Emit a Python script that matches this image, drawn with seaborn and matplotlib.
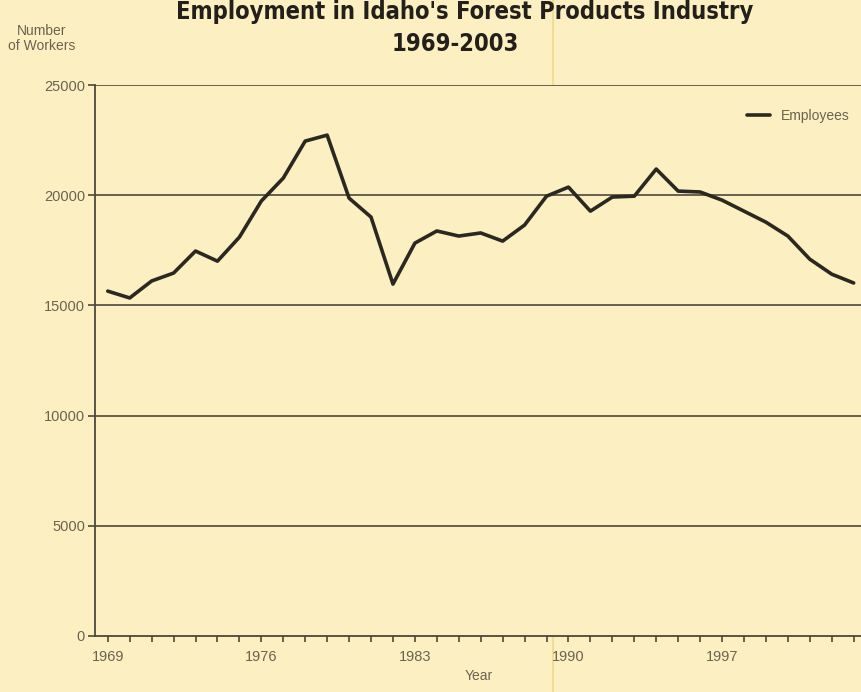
import matplotlib
matplotlib.use("Agg")
import matplotlib.pyplot as plt
import seaborn as sns
import pandas as pd
from matplotlib.lines import Line2D

years = list(range(1969, 2004))
employees = [15650, 15340, 16110, 16470, 17470, 17010, 18100, 19740, 20780, 22460,
             22730, 19870, 19010, 15970, 17830, 18380, 18150, 18290, 17920, 18650,
             19960, 20370, 19280, 19920, 19960, 21190, 20190, 20150, 19780, 19280,
             18780, 18150, 17100, 16420, 16020]
x_tick_labels = [1969, 1976, 1983, 1990, 1997]
y_ticks = [0, 5000, 10000, 15000, 20000, 25000]

df = pd.DataFrame({"Year": years, "Employees": employees})

bg = "#fcf0c2"
text_c = "#6a6350"
line_c = "#4d473b"

sns.set_theme(style="white")
plt.rcParams["font.family"] = ["Liberation Sans", "DejaVu Sans"]

fig = plt.figure(figsize=(8.62, 6.92), dpi=100, facecolor=bg)
ax = fig.add_axes([0.110, 0.081, 0.89, 0.796])
ax.set_facecolor(bg)

sns.lineplot(data=df, x="Year", y="Employees", ax=ax, color="#2b2721",
             linewidth=2.6, label="Employees")

ax.set_xlim(1968.41, 2003.38)
ax.set_ylim(0, 25000)
ax.set_yticks(y_ticks)
ax.set_yticklabels([str(v) for v in y_ticks])
ax.set_xticks(years, minor=True)
ax.set_xticks(x_tick_labels)
ax.set_xticklabels([str(v) for v in x_tick_labels])

for v in y_ticks[1:]:
    ax.axhline(v, color=line_c, linewidth=1.2, zorder=1)

for s in ["top", "right"]:
    ax.spines[s].set_visible(False)
for s in ["left", "bottom"]:
    ax.spines[s].set_color(line_c)
    ax.spines[s].set_linewidth(1.3)

ax.tick_params(axis="y", which="major", direction="out", length=5, width=1.2,
               color=line_c, labelcolor=text_c, labelsize=10.5, pad=2, left=True)
ax.tick_params(axis="x", which="both", direction="out", length=4, width=1.2,
               color=line_c, labelcolor=text_c, labelsize=10.5, pad=6, bottom=True)

ax.set_xlabel("Year", color=text_c, fontsize=10, labelpad=4)
ax.set_ylabel("")

leg = ax.legend(loc="upper right", frameon=False, fontsize=10,
                handlelength=1.6, bbox_to_anchor=(1.0, 0.98))
for t in leg.get_texts():
    t.set_color(text_c)

fig.text(0.048, 0.955, "Number", ha="center", va="center", color=text_c, fontsize=10)
fig.text(0.048, 0.933, "of Workers", ha="center", va="center", color=text_c, fontsize=10)

title_kw = dict(ha="center", va="center", fontsize=17, fontweight="bold",
                color="#231f1a", family="DejaVu Sans", fontstretch="condensed")
fig.text(0.539, 0.983, "Employment in Idaho's Forest Products Industry", **title_kw)
fig.text(0.528, 0.937, "1969-2003", **title_kw)

# faint fold line of the scanned page
fig.add_artist(Line2D([0.641, 0.641], [0, 1], transform=fig.transFigure,
                      color="#f5dc96", linewidth=1.5, zorder=0))

fig.savefig("out.png", dpi=100, facecolor=bg)
